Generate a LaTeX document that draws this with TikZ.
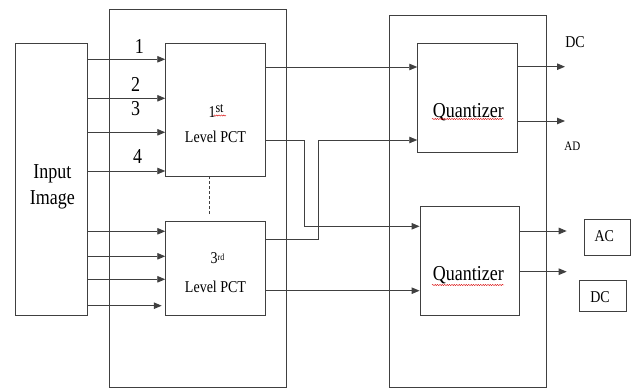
\documentclass[tikz,border=0pt]{standalone}
\usepackage{fontspec}
\setmainfont{Liberation Serif}
\usetikzlibrary{arrows.meta,decorations.pathmorphing}
\newcommand{\vsc}[1]{\scalebox{1}[1.18]{#1}}
\begin{document}
\begin{tikzpicture}[x=1pt,y=-1pt,
  blk/.style={draw=black!75, line width=0.9pt, inner sep=0pt, rectangle},
  ln/.style={draw=black!75, line width=0.9pt},
  arr/.style={ln, -{Triangle[length=8pt,width=6.5pt]}},
  txt/.style={inner sep=0pt, anchor=base},
  big/.style={font=\fontsize{18}{20}\selectfont},
  mid/.style={font=\fontsize{14}{16}\selectfont},
  wavy/.style={red!85!black, line width=0.4pt, decorate, decoration={snake, amplitude=0.6pt, segment length=2.4pt}}]
\useasboundingbox (0,0) rectangle (637,390);
% boxes
\node[blk, minimum width=72.2pt, minimum height=272pt] (inp) at (51.6,179.5) {};
\node[blk, minimum width=177.4pt, minimum height=378pt] (bigA) at (198,198) {};
\node[blk, minimum width=99.6pt, minimum height=132.7pt] (pct1) at (215.5,109.65) {};
\node[blk, minimum width=99.6pt, minimum height=93.6pt] (pct3) at (215.5,268.5) {};
\node[blk, minimum width=156.5pt, minimum height=371.6pt] (bigB) at (467.75,201.5) {};
\node[blk, minimum width=100pt, minimum height=108.7pt] (q1) at (467.7,97.65) {};
\node[blk, minimum width=99.7pt, minimum height=108.6pt] (q2) at (469.85,261) {};
\node[blk, minimum width=46.7pt, minimum height=36pt] (acbox) at (607.35,237) {};
\node[blk, minimum width=47pt, minimum height=31.7pt] (dcbox) at (602.5,295.85) {};
% texts
\node[txt, big] (tin) at (52.3,179) {\vsc{Input}};
\node[txt, big] (tim) at (52.3,205) {\vsc{Image}};
\node[txt, mid] (t1a) at (216,118) {\vsc{1\raisebox{5pt}{\fontsize{12}{14}\selectfont st}}};
\node[txt, mid] (t1b) at (215.5,143) {\vsc{Level PCT}};
\node[txt, mid] (t3a) at (217.5,263.3) {\vsc{3\raisebox{2pt}{\fontsize{8}{9}\selectfont rd}}};
\node[txt, mid] (t3b) at (215.5,292.3) {\vsc{Level PCT}};
\node[txt, big] (tq1) at (468.3,117.3) {\vsc{Quantizer}};
\node[txt, big] (tq2) at (468.3,280.7) {\vsc{Quantizer}};
\node[txt, mid] (tdc1) at (575,47.3) {\vsc{DC}};
\node[txt, font=\fontsize{11}{13}\selectfont] (tad) at (572.3,151) {\vsc{AD}};
\node[txt, mid] (tac) at (604.3,241.7) {\vsc{AC}};
\node[txt, mid] (tdc2) at (600,302.7) {\vsc{DC}};
\node[txt, big] (n1) at (139.3,53.3) {\vsc{1}};
\node[txt, big] (n2) at (135.7,91.7) {\vsc{2}};
\node[txt, big] (n3) at (135.7,115.7) {\vsc{3}};
\node[txt, big] (n4) at (137.7,163.3) {\vsc{4}};
% spell-check marks
\draw[wavy] (213.5,115.5) -- (226,115.5);
\draw[wavy] (432,119) -- (504,119);
\draw[wavy] (432,285) -- (504,285);
% levels
\coordinate (a1) at (0,59.3);
\coordinate (a2) at (0,98.3);
\coordinate (a3) at (0,132.3);
\coordinate (a4) at (0,171);
\coordinate (b1) at (0,231.3);
\coordinate (b2) at (0,256.3);
\coordinate (b3) at (0,279.3);
\coordinate (b4) at (0,305.7);
\coordinate (o1) at (0,67);
\coordinate (o2) at (0,140);
\coordinate (o3) at (0,239.3);
\coordinate (o4) at (0,290.7);
\coordinate (qa) at (0,226.3);
\coordinate (v1) at (304.3,0);
\coordinate (v2) at (318.7,0);
\coordinate (e1) at (565,66.7);
\coordinate (e2) at (565,121);
\coordinate (e3) at (566.7,231);
\coordinate (e4) at (566.7,271.7);
\coordinate (dsh) at (209.3,214);
% input arrows
\foreach \c in {a1,a2,a3,a4}{\draw[arr] (inp.east|-\c) -- (pct1.west|-\c);}
\foreach \c in {b1,b2,b3}{\draw[arr] (inp.east|-\c) -- (pct3.west|-\c);}
\draw[arr, shorten >=3.5pt] (inp.east|-b4) -- (pct3.west|-b4);
% dashed link
\draw[ln, line width=0.7pt, dash pattern=on 3pt off 2pt] (pct1.south-|dsh) -- (dsh);
% PCT to quantizers
\draw[arr] (pct1.east|-o1) -- (q1.west|-o1);
\draw[arr] (pct1.east|-o2) -- (v1|-o2) -- (v1|-qa) -- (q2.west|-qa);
\draw[arr] (pct3.east|-o3) -- (v2|-o3) -- (v2|-o2) -- (q1.west|-o2);
\draw[arr] (pct3.east|-o4) -- (q2.west|-o4);
% quantizer outputs
\draw[arr] (q1.east|-e1) -- (e1);
\draw[arr] (q1.east|-e2) -- (e2);
\draw[arr] (q2.east|-e3) -- (e3);
\draw[arr] (q2.east|-e4) -- (e4);
\end{tikzpicture}
\end{document}
